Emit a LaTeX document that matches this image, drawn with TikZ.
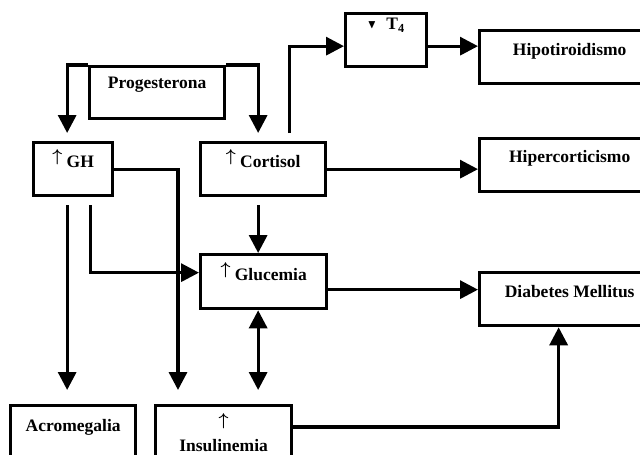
\documentclass[tikz,border=0pt]{standalone}
\usepackage{fontspec}
\setmainfont{Liberation Serif}
\usepackage{amsmath,amssymb}
\usetikzlibrary{arrows.meta}
\newcommand{\incr}{\raisebox{6pt}{$\boldsymbol{\uparrow}$}}
\newcommand{\decr}{\raisebox{1pt}{\fontsize{12}{12}\selectfont$\blacktriangledown$}}

\begin{document}
\begin{tikzpicture}[x=1pt,y=-1pt,
    box/.style={draw,line width=3.3pt,inner sep=0pt,anchor=north west,
        font=\bfseries\fontsize{17.5}{22}\selectfont,text height=25pt,text depth=28pt},
    conn/.style={line width=3.3pt,-{Triangle[length=18pt,width=18pt]}},
    dconn/.style={line width=3.3pt,{Triangle[length=18pt,width=18pt]}-{Triangle[length=18pt,width=18pt]}}]
        \useasboundingbox (0,0) rectangle (640,455);
        \clip (0,0) rectangle (640,455);
        \node[box,minimum width=135pt,text height=22pt,text depth=30pt] (prog) at (88,65) {Progesterona};
        \node[box,minimum width=79pt] (gh) at (32,141) {\incr\ GH};
        \node[box,minimum width=125pt] (cort) at (199,141) {\incr\ Cortisol};
        \node[box,minimum width=81pt,text height=16pt,text depth=37pt] (tiro) at (344,12) {\decr\hspace{10pt}T\textsubscript{4}};
        \node[box,minimum width=180pt] (hipo) at (478,29) {Hipotiroidismo};
        \node[box,minimum width=180pt,text height=24pt,text depth=29pt] (hiper) at (478,137) {Hipercorticismo};
        \node[box,minimum width=126pt,text height=26pt,text depth=28pt] (gluc) at (199,253) {\incr\ Glucemia};
        \node[box,minimum width=180pt] (diab) at (478,271) {Diabetes Mellitus};
        \node[box,minimum width=125pt,text height=26pt,text depth=45pt] (acro) at (9,404) {Acromegalia};
        \node[box,minimum width=136pt,text height=26pt,text depth=50pt] (insul) at (154,404)
            {\begin{tabular}[t]{@{}c@{}}\incr\\[-2pt]Insulinemia\end{tabular}};
        \coordinate (tA) at ([yshift=-6pt]tiro.east);
        \coordinate (gA) at ([yshift=-8pt]gluc.east);
        \draw[conn] (prog.north west) -| ([xshift=-6pt,yshift=8pt]gh.north);
        \draw[conn] (prog.north east) -| ([xshift=-5pt,yshift=8pt]cort.north);
        \draw[conn] ([xshift=26pt,yshift=8pt]cort.north) |- ([yshift=-6pt]tiro.west);
        \draw[conn] (tA) -- (tA -| hipo.west);
        \draw[conn] (cort.east) -- (cort.east -| hiper.west);
        \draw[conn] (gh.east) -| ([xshift=24pt,yshift=14pt]insul.north west);
        \draw[conn] ([xshift=-6pt,yshift=-8pt]gh.south) -- ([xshift=-6pt,yshift=14pt]acro.north);
        \draw[conn] ([xshift=17pt,yshift=-8pt]gh.south) |- ([yshift=9pt]gluc.west);
        \draw[conn] ([xshift=-5pt,yshift=-8pt]cort.south) -- ([xshift=-5.5pt]gluc.north);
        \draw[conn] (gA) -- (gA -| diab.west);
        \draw[dconn] ([xshift=-5.5pt]gluc.south) -- ([xshift=34.5pt,yshift=14pt]insul.north);
        \draw[conn] ([yshift=-23pt]insul.north east) -| ([xshift=-11pt]diab.south);
\end{tikzpicture}
\end{document}
